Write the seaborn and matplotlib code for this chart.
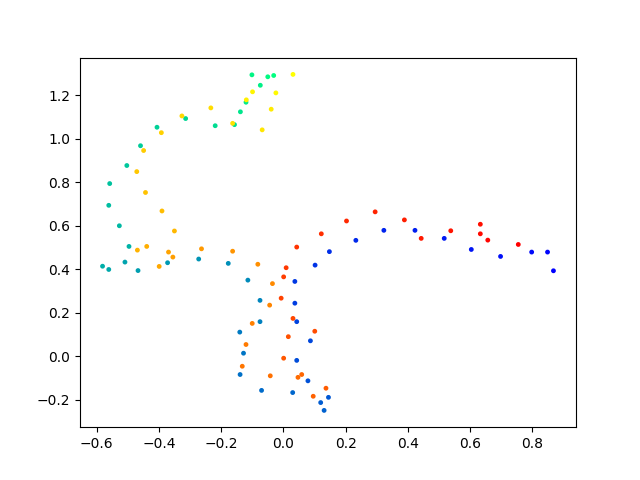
import numpy as np
import matplotlib
matplotlib.use("Agg")
import matplotlib.pyplot as plt
import seaborn as sns

# first curve (blue -> green)
x_winter = [0.868, 0.849, 0.798, 0.698, 0.604, 0.517, 0.423, 0.323, 0.233, 0.148,
            0.102, 0.037, 0.037, 0.043, 0.087, 0.043, 0.079, 0.145, 0.120, 0.131,
            0.030, -0.070, -0.139, -0.128, -0.140, -0.075, -0.075, -0.114, -0.177, -0.272,
            -0.372, -0.467, -0.509, -0.561, -0.581, -0.496, -0.527, -0.561, -0.558, -0.503,
            -0.459, -0.406, -0.314, -0.219, -0.157, -0.138, -0.120, -0.074, -0.101, -0.050,
            -0.031]
y_winter = [0.394, 0.480, 0.480, 0.460, 0.492, 0.543, 0.580, 0.580, 0.534, 0.482,
            0.420, 0.345, 0.245, 0.160, 0.072, -0.018, -0.112, -0.188, -0.212, -0.248,
            -0.166, -0.156, -0.083, 0.015, 0.112, 0.160, 0.258, 0.351, 0.428, 0.448,
            0.431, 0.395, 0.434, 0.400, 0.415, 0.506, 0.601, 0.695, 0.795, 0.878,
            0.969, 1.054, 1.094, 1.061, 1.066, 1.125, 1.169, 1.247, 1.295, 1.286,
            1.292]

# second curve (red -> yellow)
x_autumn = [0.755, 0.657, 0.633, 0.633, 0.538, 0.443, 0.389, 0.295, 0.203, 0.122,
            0.043, 0.009, 0.001, -0.007, 0.031, 0.101, 0.016, 0.001, 0.137, 0.096,
            0.059, 0.047, -0.042, -0.132, -0.120, -0.100, -0.044, -0.035, -0.082, -0.163,
            -0.263, -0.355, -0.369, -0.399, -0.439, -0.469, -0.350, -0.390, -0.443, -0.471,
            -0.449, -0.392, -0.326, -0.233, -0.163, -0.068, -0.039, -0.119, -0.099, -0.024,
            0.031]
y_autumn = [0.515, 0.535, 0.564, 0.608, 0.578, 0.543, 0.628, 0.665, 0.623, 0.564,
            0.503, 0.408, 0.366, 0.268, 0.175, 0.116, 0.091, -0.008, -0.146, -0.183,
            -0.083, -0.096, -0.089, -0.045, 0.055, 0.152, 0.236, 0.335, 0.424, 0.484,
            0.495, 0.457, 0.480, 0.414, 0.506, 0.489, 0.577, 0.669, 0.754, 0.850,
            0.947, 1.029, 1.106, 1.143, 1.072, 1.042, 1.137, 1.180, 1.217, 1.212,
            1.297]

fig, ax = plt.subplots(figsize=(6.4, 4.8), dpi=100)

sns.scatterplot(x=x_winter, y=y_winter, hue=np.arange(len(x_winter)),
                palette="winter", s=12, linewidth=0, legend=False, ax=ax)
sns.scatterplot(x=x_autumn, y=y_autumn, hue=np.arange(len(x_autumn)),
                palette="autumn", s=12, linewidth=0, legend=False, ax=ax)

fig.savefig("out.png")
